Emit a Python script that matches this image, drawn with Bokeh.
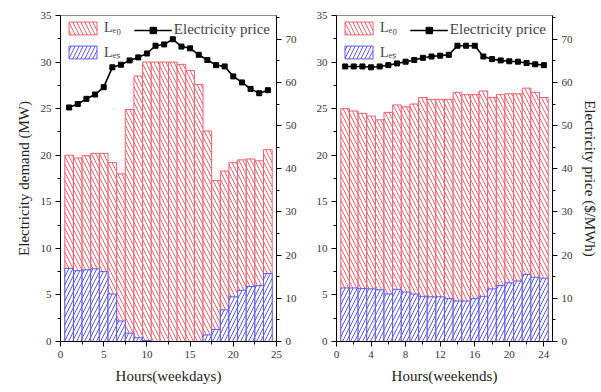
from bokeh.plotting import figure
from bokeh.models import Range1d, LinearAxis, Legend, LegendItem, FixedTicker, ColumnDataSource
from bokeh.layouts import row
from bokeh.embed import file_html
from bokeh.resources import INLINE

hours = list(range(1, 25))

# Weekdays
wd_le0 = [20.0, 19.7, 19.95, 20.2, 20.2, 19.2, 18.0, 24.9, 28.5, 30.0, 30.0, 30.0,
          30.0, 29.75, 29.1, 27.6, 22.6, 17.3, 18.3, 19.2, 19.5, 19.6, 19.4, 20.6]
wd_les = [7.85, 7.6, 7.7, 7.8, 7.5, 5.1, 2.2, 0.9, 0.4, 0.1, 0.0, 0.0,
          0.0, 0.0, 0.0, 0.0, 0.7, 1.3, 3.4, 4.8, 5.5, 5.9, 6.0, 7.3]
wd_price = [54.2, 55.0, 56.2, 57.2, 58.9, 63.5, 64.1, 65.1, 65.8, 66.7, 68.5, 68.8,
            70.0, 68.3, 67.9, 66.4, 65.2, 64.0, 63.7, 61.4, 60.0, 58.5, 57.5, 58.2]

# Weekends
we_le0 = [25.0, 24.75, 24.5, 24.2, 23.8, 24.6, 25.4, 25.2, 25.5, 26.2, 26.0, 26.0,
          26.0, 26.75, 26.5, 26.5, 26.9, 26.2, 26.5, 26.6, 26.6, 27.2, 26.75, 26.2]
we_les = [5.75, 5.75, 5.7, 5.65, 5.55, 5.1, 5.6, 5.3, 5.1, 4.85, 4.8, 4.8,
          4.6, 4.35, 4.35, 4.6, 4.85, 5.65, 6.0, 6.3, 6.5, 7.2, 6.9, 6.8]
we_price = [63.7, 63.7, 63.7, 63.5, 63.7, 64.0, 64.4, 64.8, 65.2, 65.7, 66.0, 66.2,
            66.4, 68.5, 68.5, 68.5, 66.0, 65.4, 65.1, 64.9, 64.8, 64.5, 64.2, 64.0]

wd_xticks = [0, 5, 10, 15, 20, 25]
we_xticks = [0, 4, 8, 12, 16, 20, 24]
demand_ticks = [0, 5, 10, 15, 20, 25, 30, 35]
price_ticks = [0, 10, 20, 30, 40, 50, 60, 70]

FONT = "Liberation Serif"
RED = "#F2606C"
BLUE = "#5A5AF2"


def style_axis(ax, label_size="11px"):
    ax.major_label_text_font = FONT
    ax.major_label_text_font_size = label_size
    ax.major_label_text_color = "#333333"
    ax.axis_label_text_font = FONT
    ax.axis_label_text_font_size = "15px"
    ax.axis_label_text_font_style = "normal"
    ax.axis_label_text_color = "#222222"
    ax.axis_line_color = "black"
    ax.major_tick_line_color = "black"
    ax.minor_tick_line_color = "black"
    ax.major_tick_in = 0
    ax.major_tick_out = 5
    ax.minor_tick_in = 0
    ax.minor_tick_out = 3
    ax.major_label_standoff = 4


def make_panel(le0, les, price, xticks, xlabel, left_title, right_title, width, mbl, mbr):
    p = figure(width=width, height=392, output_backend="svg", toolbar_location=None,
               x_range=Range1d(0, 25), y_range=Range1d(0, 35),
               min_border_left=mbl, min_border_right=mbr,
               min_border_top=15, min_border_bottom=51)
    p.extra_y_ranges = {"price": Range1d(0, 75.5)}
    p.xgrid.visible = False
    p.ygrid.visible = False
    p.outline_line_color = "#8a8a8a"
    p.background_fill_color = "white"
    p.border_fill_color = "white"

    src = ColumnDataSource(dict(h=hours, le0=le0, les=les, price=price))
    r_red = p.vbar(x="h", top="le0", bottom=0, width=1.0, source=src,
                   fill_color="white", line_color=RED, line_width=1,
                   hatch_pattern="\\", hatch_color=RED, hatch_scale=8, hatch_weight=1.0)
    r_blue = p.vbar(x="h", top="les", bottom=0, width=1.0, source=src,
                    fill_color="white", line_color=BLUE, line_width=1,
                    hatch_pattern="/", hatch_color=BLUE, hatch_scale=8, hatch_weight=1.0)
    r_line = p.line(x="h", y="price", source=src, y_range_name="price",
                    line_color="black", line_width=1.6)
    r_pts = p.scatter(x="h", y="price", source=src, y_range_name="price",
                      marker="square", size=5, fill_color="black", line_color="black")

    p.xaxis.ticker = FixedTicker(ticks=xticks,
                                 minor_ticks=[t + (xticks[1] - xticks[0]) / 2 for t in xticks[:-1]])
    p.xaxis.axis_label = xlabel
    p.xaxis.axis_label_standoff = 7
    p.yaxis.ticker = FixedTicker(ticks=demand_ticks, minor_ticks=[t + 2.5 for t in demand_ticks[:-1]])
    p.yaxis.axis_label = left_title
    p.yaxis.axis_label_standoff = 6
    for ax in p.xaxis + p.yaxis:
        style_axis(ax)

    ra = LinearAxis(y_range_name="price",
                    ticker=FixedTicker(ticks=price_ticks, minor_ticks=[t + 5 for t in price_ticks]),
                    axis_label=right_title, axis_label_standoff=6)
    style_axis(ra)
    p.add_layout(ra, "right")

    leg1 = Legend(items=[LegendItem(label="Lₑ₀", renderers=[r_red]),
                         LegendItem(label="Lₑₛ", renderers=[r_blue])],
                  location="top_left", orientation="vertical",
                  glyph_width=35, glyph_height=16, spacing=6, padding=2, margin=3,
                  label_standoff=4, label_text_font=FONT, label_text_font_size="14px",
                  background_fill_alpha=0, border_line_alpha=0)
    leg2 = Legend(items=[LegendItem(label="Electricity price", renderers=[r_line, r_pts])],
                  location="top_right", glyph_width=38, glyph_height=16,
                  padding=2, margin=4, label_standoff=2,
                  label_text_font=FONT, label_text_font_size="15px",
                  background_fill_alpha=0, border_line_alpha=0)
    p.add_layout(leg1)
    p.add_layout(leg2)
    return p


p1 = make_panel(wd_le0, wd_les, wd_price, wd_xticks, "Hours(weekdays)",
                "Electricity demand (MW)", None, 306, 60, 30)
p2 = make_panel(we_le0, we_les, we_price, we_xticks, "Hours(weekends)",
                None, "Electricity price ($/MWh)", 295, 30, 49)

layout = row(p1, p2)
open("out.html", "w").write(file_html(layout, INLINE))
